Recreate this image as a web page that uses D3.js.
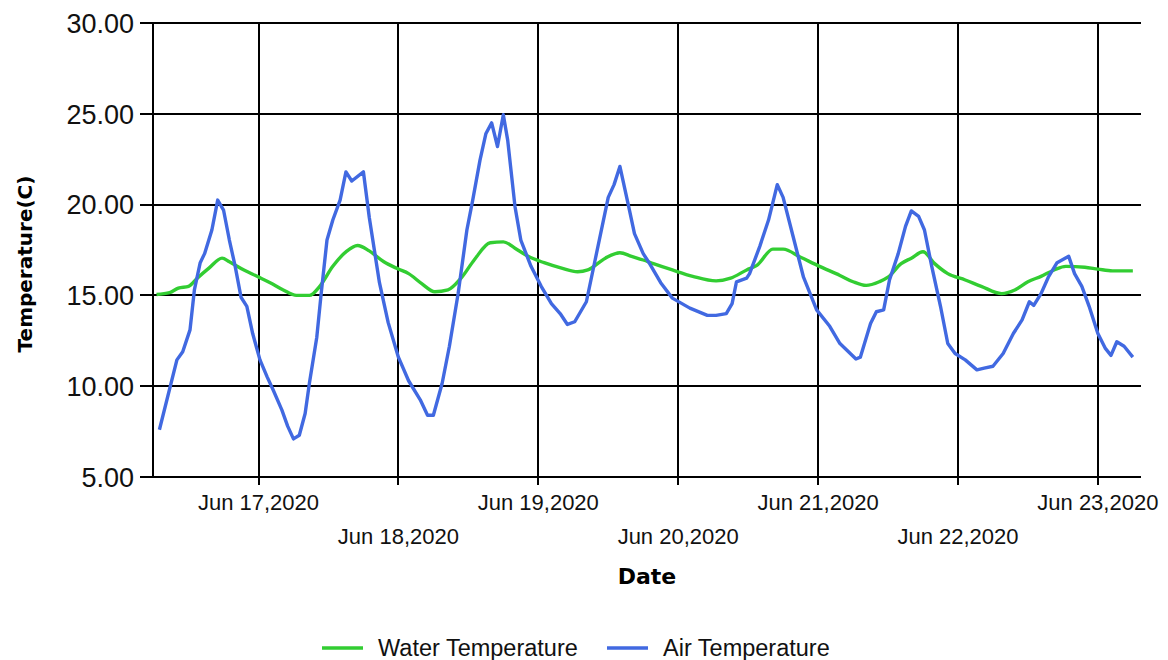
<!DOCTYPE html>
<html><head><meta charset="utf-8">
<script src="https://cdn.jsdelivr.net/npm/d3@7"></script>
<style>body{margin:0;background:#fff}</style>
</head><body><svg id="c" width="1168" height="660"></svg>
<script>
const airTimes = [
"2020-06-16 07:00","2020-06-16 10:00","2020-06-16 11:00","2020-06-16 12:15","2020-06-16 13:00","2020-06-16 14:00","2020-06-16 14:45","2020-06-16 16:00","2020-06-16 17:00","2020-06-16 18:00","2020-06-16 19:00","2020-06-16 20:00","2020-06-16 21:00","2020-06-16 22:00","2020-06-16 23:00",
"2020-06-17 00:15","2020-06-17 01:30","2020-06-17 02:30","2020-06-17 04:00","2020-06-17 05:00","2020-06-17 06:00","2020-06-17 07:00","2020-06-17 08:00","2020-06-17 08:45","2020-06-17 10:00","2020-06-17 10:45","2020-06-17 11:45","2020-06-17 12:45","2020-06-17 14:00","2020-06-17 15:00","2020-06-17 16:00","2020-06-17 18:00","2020-06-17 19:00","2020-06-17 20:45","2020-06-17 22:15",
"2020-06-18 00:00","2020-06-18 01:45","2020-06-18 03:45","2020-06-18 05:00","2020-06-18 06:00","2020-06-18 07:30","2020-06-18 08:45","2020-06-18 10:15","2020-06-18 11:45","2020-06-18 12:45","2020-06-18 14:00","2020-06-18 15:00","2020-06-18 16:00","2020-06-18 17:00","2020-06-18 18:00","2020-06-18 18:45","2020-06-18 20:00","2020-06-18 21:00","2020-06-18 22:45",
"2020-06-19 00:30","2020-06-19 02:15","2020-06-19 03:45","2020-06-19 05:00","2020-06-19 06:15","2020-06-19 08:15","2020-06-19 09:45","2020-06-19 12:00","2020-06-19 13:00","2020-06-19 14:00","2020-06-19 15:30","2020-06-19 16:30","2020-06-19 18:00","2020-06-19 19:00","2020-06-19 21:00","2020-06-19 23:00",
"2020-06-20 02:00","2020-06-20 05:00","2020-06-20 06:30","2020-06-20 08:15","2020-06-20 09:15","2020-06-20 10:00","2020-06-20 11:45","2020-06-20 12:15","2020-06-20 14:00","2020-06-20 15:30","2020-06-20 17:00","2020-06-20 18:00","2020-06-20 19:45","2020-06-20 21:30","2020-06-20 23:45",
"2020-06-21 02:00","2020-06-21 03:45","2020-06-21 06:30","2020-06-21 07:15","2020-06-21 09:00","2020-06-21 10:00","2020-06-21 11:15","2020-06-21 12:15","2020-06-21 13:45","2020-06-21 15:00","2020-06-21 16:00","2020-06-21 17:15","2020-06-21 18:15","2020-06-21 19:30","2020-06-21 21:00","2020-06-21 22:15","2020-06-21 23:30",
"2020-06-22 01:15","2020-06-22 03:15","2020-06-22 04:30","2020-06-22 06:00","2020-06-22 07:45","2020-06-22 09:30","2020-06-22 11:00","2020-06-22 12:15","2020-06-22 13:00","2020-06-22 14:15","2020-06-22 15:30","2020-06-22 17:00","2020-06-22 19:00","2020-06-22 20:00","2020-06-22 21:15","2020-06-22 22:30",
"2020-06-23 00:00","2020-06-23 01:15","2020-06-23 02:15","2020-06-23 03:15","2020-06-23 04:30","2020-06-23 06:00"];
const airTemps = [
7.6,11.45,11.9,13.1,15.3,16.8,17.3,18.6,20.25,19.7,18.05,16.6,14.9,14.4,12.9,
11.45,10.5,9.8,8.7,7.8,7.1,7.3,8.5,10.2,12.7,15.1,18.05,19.15,20.25,21.8,21.3,21.8,19.3,15.7,13.5,
11.6,10.3,9.25,8.4,8.4,10.15,12.2,15.1,18.6,20.25,22.45,23.9,24.5,23.2,24.95,23.55,19.9,18.05,16.6,
15.5,14.55,14.0,13.4,13.55,14.65,16.95,20.4,21.1,22.1,19.9,18.4,17.3,16.8,15.7,14.85,
14.3,13.9,13.9,14.0,14.55,15.75,15.95,16.2,17.7,19.15,21.1,20.4,18.2,16.0,14.2,
13.3,12.35,11.5,11.6,13.45,14.1,14.2,15.85,17.3,18.8,19.65,19.35,18.6,16.6,14.4,12.35,11.8,
11.45,10.9,11.0,11.1,11.8,12.9,13.65,14.65,14.45,15.1,16.0,16.8,17.15,16.2,15.5,14.4,
12.9,12.1,11.7,12.45,12.2,11.6];

const waterTimes = [
"2020-06-16 06:30","2020-06-16 08:45","2020-06-16 10:15","2020-06-16 12:00","2020-06-16 13:30","2020-06-16 15:30","2020-06-16 17:45","2020-06-16 19:00","2020-06-16 21:30","2020-06-16 23:45",
"2020-06-17 02:00","2020-06-17 04:15","2020-06-17 06:30","2020-06-17 08:45","2020-06-17 10:30","2020-06-17 12:45","2020-06-17 15:00","2020-06-17 17:00","2020-06-17 19:00","2020-06-17 21:30",
"2020-06-18 00:00","2020-06-18 01:45","2020-06-18 04:00","2020-06-18 06:15","2020-06-18 08:30","2020-06-18 10:45","2020-06-18 13:00","2020-06-18 15:45","2020-06-18 18:00","2020-06-18 20:00","2020-06-18 22:15",
"2020-06-19 01:00","2020-06-19 04:00","2020-06-19 06:45","2020-06-19 08:30","2020-06-19 11:30","2020-06-19 14:00","2020-06-19 16:00","2020-06-19 18:00","2020-06-19 19:45","2020-06-19 23:00",
"2020-06-20 02:30","2020-06-20 06:30","2020-06-20 09:00","2020-06-20 11:45","2020-06-20 13:30","2020-06-20 16:15","2020-06-20 18:00","2020-06-20 21:00",
"2020-06-21 00:15","2020-06-21 03:45","2020-06-21 06:00","2020-06-21 08:15","2020-06-21 10:30","2020-06-21 12:00","2020-06-21 14:15","2020-06-21 16:00","2020-06-21 18:00","2020-06-21 20:00","2020-06-21 22:15",
"2020-06-22 01:15","2020-06-22 04:00","2020-06-22 07:30","2020-06-22 09:45","2020-06-22 12:00","2020-06-22 14:15","2020-06-22 16:30","2020-06-22 18:30","2020-06-22 21:45",
"2020-06-23 00:00","2020-06-23 02:30","2020-06-23 06:00"];
const waterTemps = [
15.05,15.15,15.4,15.5,15.95,16.5,17.05,16.85,16.4,16.05,
15.7,15.3,15.0,15.0,15.5,16.6,17.4,17.75,17.45,16.85,
16.45,16.2,15.65,15.2,15.3,15.95,16.95,17.9,17.95,17.6,17.15,
16.8,16.5,16.3,16.4,17.05,17.35,17.15,16.95,16.75,16.4,
16.05,15.8,15.95,16.4,16.65,17.55,17.55,17.1,
16.6,16.1,15.75,15.55,15.75,16.0,16.75,17.05,17.4,16.75,16.2,
15.85,15.5,15.1,15.3,15.75,16.05,16.4,16.6,16.55,
16.45,16.35,16.35];

const yTicks = [5, 10, 15, 20, 25, 30];
const xTickDates = ["2020-06-17 00:00","2020-06-18 00:00","2020-06-19 00:00","2020-06-20 00:00","2020-06-21 00:00","2020-06-22 00:00","2020-06-23 00:00"];
const xTickLabels = ["Jun 17,2020","Jun 18,2020","Jun 19,2020","Jun 20,2020","Jun 21,2020","Jun 22,2020","Jun 23,2020"];
const xDomain = ["2020-06-16 05:54","2020-06-23 07:24"];
const yDomain = [5, 30];
const seriesNames = ["Water Temperature","Air Temperature"];
const seriesColors = ["#32CD32","#4169E1"];
const xTitle = "Date";
const yTitle = "Temperature(C)";

const parse = d3.timeParse("%Y-%m-%d %H:%M");
const svg = d3.select("#c");
const L = 153, R = 1141, T = 23, B = 477;
const x = d3.scaleTime().domain(xDomain.map(parse)).range([L, R]);
const y = d3.scaleLinear().domain(yDomain).range([B, T]);

const grid = svg.append("g").attr("stroke", "#000").attr("stroke-width", 1.4).attr("shape-rendering", "crispEdges");
yTicks.forEach(v => {
  grid.append("line").attr("x1", L - 13).attr("x2", R).attr("y1", Math.round(y(v))).attr("y2", Math.round(y(v)));
});
xTickDates.forEach(d => {
  const xx = Math.round(x(parse(d)));
  grid.append("line").attr("x1", xx).attr("x2", xx).attr("y1", T).attr("y2", B + 8);
});
grid.append("line").attr("x1", L).attr("x2", L).attr("y1", T).attr("y2", B);

const tickFont = "'Liberation Sans', Arial, sans-serif";
svg.append("g").selectAll("text").data(yTicks).join("text")
  .attr("x", L - 19).attr("y", d => y(d)).attr("dy", "0.36em")
  .attr("text-anchor", "end").attr("font-family", tickFont).attr("font-size", 27)
  .attr("fill", "#111").text(d => d3.format(".2f")(d));

svg.append("g").selectAll("text").data(xTickDates).join("text")
  .attr("x", d => x(parse(d))).attr("y", (d, i) => i % 2 === 0 ? 502 : 536).attr("dy", "0.36em")
  .attr("text-anchor", "middle").attr("font-family", tickFont).attr("font-size", 22)
  .attr("fill", "#111").text((d, i) => xTickLabels[i]);

svg.append("text").attr("x", (L + R) / 2).attr("y", 576).attr("dy", "0.36em")
  .attr("text-anchor", "middle").attr("font-family", "'DejaVu Sans', Verdana, sans-serif")
  .attr("font-weight", "bold").attr("font-size", 22).attr("fill", "#000").text(xTitle);
svg.append("text").attr("transform", `translate(25,264) rotate(-90)`).attr("dy", "0.36em")
  .attr("text-anchor", "middle").attr("font-family", "'DejaVu Sans', Verdana, sans-serif")
  .attr("font-weight", "bold").attr("font-size", 20).attr("fill", "#000").text(yTitle);

const line = d3.line().x(d => x(d[0])).y(d => y(d[1]));
const water = waterTimes.map((t, i) => [parse(t), waterTemps[i]]);
const air = airTimes.map((t, i) => [parse(t), airTemps[i]]);
svg.append("path").datum(water).attr("d", d3.line().x(d => x(d[0])).y(d => y(d[1])).curve(d3.curveMonotoneX)(water))
  .attr("fill", "none").attr("stroke", seriesColors[0]).attr("stroke-width", 3.4).attr("stroke-linejoin", "round");
svg.append("path").datum(air).attr("d", line(air))
  .attr("fill", "none").attr("stroke", seriesColors[1]).attr("stroke-width", 3.4).attr("stroke-linejoin", "round");

const leg = svg.append("g");
const legX = [322, 607];
seriesNames.forEach((n, i) => {
  leg.append("line").attr("x1", legX[i]).attr("x2", legX[i] + 41).attr("y1", 648).attr("y2", 648)
    .attr("stroke", seriesColors[i]).attr("stroke-width", 3.4);
  leg.append("text").attr("x", legX[i] + 56).attr("y", 648).attr("dy", "0.36em")
    .attr("font-family", tickFont).attr("font-size", 23.5).attr("fill", "#111").text(n);
});
</script></body></html>
